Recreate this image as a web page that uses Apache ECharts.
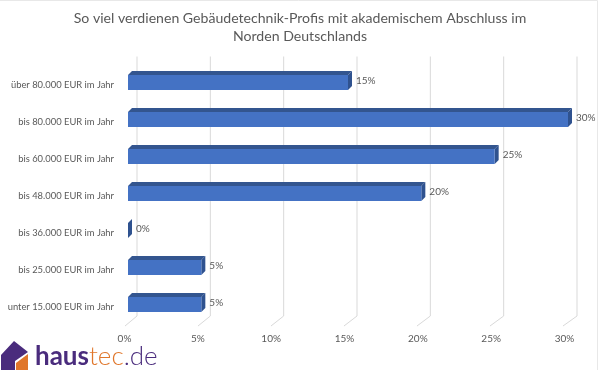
<!DOCTYPE html>
<html>
<head>
<meta charset="utf-8">
<script src="https://cdn.jsdelivr.net/npm/echarts@6/dist/echarts.min.js"></script>
<style>
html, body { margin: 0; padding: 0; background: #fff; }
#chart { width: 600px; height: 370px; }
</style>
</head>
<body>
<div id="chart"></div>
<script>
var titleLines = ['So viel verdienen Gebäudetechnik-Profis mit akademischem Abschluss im', 'Norden Deutschlands']
var categories = ['unter 15.000 EUR im Jahr', 'bis 25.000 EUR im Jahr', 'bis 36.000 EUR im Jahr', 'bis 48.000 EUR im Jahr', 'bis 60.000 EUR im Jahr', 'bis 80.000 EUR im Jahr', 'über 80.000 EUR im Jahr']
var values = [5, 5, 0, 20, 25, 30, 15]
var xTicks = [0, 5, 10, 15, 20, 25, 30]

var font = 'Lato, "Noto Sans", sans-serif'
var chart = echarts.init(document.getElementById('chart'), null, { renderer: 'canvas' })

// hintere Wand + Boden als Gitter
function renderWall (params, api) {
  var p = api.coord([api.value(0), 0])
  var s = params.coordSys
  var backX = p[0] + 9
  var floorY = s.y + s.height - 9.5
  return {
    type: 'polyline',
    silent: true,
    shape: { points: [[backX, s.y - 10], [backX, floorY], [p[0] - 3 - api.value(0) * 0.067, floorY + 10]] },
    style: { stroke: '#d9d9d9', lineWidth: 1, fill: 'none' }
  }
}

// 3D-Balken: Front, Oberseite, rechte Seite
function renderBar (params, api) {
  var start = api.coord([0, api.value(1)])
  var end = api.coord([api.value(0), api.value(1)])
  var h = 15
  var dx = 4
  var dy = 4
  var top = start[1] - 10
  var bottom = top + h
  var children = [{
    type: 'polygon',
    shape: { points: [[end[0], top], [end[0] + dx, top - dy], [end[0] + dx, bottom - dy], [end[0], bottom]] },
    style: { fill: '#2f528f' }
  }]
  if (end[0] > start[0]) {
    children.push({
      type: 'polygon',
      shape: { points: [[start[0], top], [start[0] + dx, top - dy], [end[0] + dx, top - dy], [end[0], top]] },
      style: { fill: '#33558f' }
    })
    children.push({
      type: 'rect',
      shape: { x: start[0], y: top, width: end[0] - start[0], height: h },
      style: { fill: '#4472c4' }
    })
  }
  children.push({
    type: 'text',
    style: {
      x: end[0] + dx + 4,
      y: start[1] - 4,
      text: api.value(0) + '%',
      fill: '#595959',
      fontSize: 10,
      fontFamily: font,
      verticalAlign: 'middle'
    }
  })
  return { type: 'group', children: children }
}

chart.setOption({
  animation: false,
  backgroundColor: '#fff',
  title: {
    text: titleLines.join('\n'),
    left: 295,
    top: 4,
    textAlign: 'center',
    textStyle: { color: '#595959', fontSize: 14.1, fontWeight: 'normal', fontFamily: font, lineHeight: 18 }
  },
  grid: { left: 128, width: 440, top: 66.5, height: 259 },
  xAxis: {
    type: 'value',
    min: 0,
    max: 30,
    interval: 5,
    axisLine: { show: false },
    axisTick: { show: false },
    splitLine: { show: false },
    axisLabel: {
      formatter: '{value}%',
      color: '#595959',
      fontSize: 10,
      fontFamily: font,
      margin: 8,
      padding: [0, 7, 0, 0]
    }
  },
  yAxis: {
    type: 'category',
    data: categories,
    axisLine: { show: false },
    axisTick: { show: false },
    axisLabel: { color: '#595959', fontSize: 9.4, fontFamily: font, margin: 14 }
  },
  series: [{
    type: 'custom',
    data: xTicks.map(function (t) { return [t] }),
    encode: { x: 0 },
    renderItem: renderWall,
    silent: true,
    z: 1
  }, {
    type: 'custom',
    data: values.map(function (v, i) { return [v, i] }),
    encode: { x: 0, y: 1 },
    renderItem: renderBar,
    z: 2
  }],
  graphic: [{
    type: 'polyline',
    shape: { points: [[0, 0.5], [597.5, 0.5], [597.5, 370]] },
    style: { stroke: '#e8e8e8', lineWidth: 1, fill: 'none' }
  }, {
    type: 'polygon',
    shape: { points: [[1, 370], [1, 355], [14, 341], [28, 352], [15, 361], [15, 370]] },
    style: { fill: '#4a2c7d' }
  }, {
    type: 'polygon',
    shape: { points: [[16, 370], [16, 363], [28, 354], [28, 370]] },
    style: { fill: '#e0762a' }
  }, {
    type: 'text',
    left: 35,
    top: 344,
    style: {
      text: '{a|haus}{b|tec}{c|.de}',
      rich: {
        a: { fill: '#4a2c7d', fontSize: 26, fontFamily: font, fontWeight: 'bold' },
        b: { fill: '#e0762a', fontSize: 26, fontFamily: font, fontWeight: 300 },
        c: { fill: '#4a2c7d', fontSize: 26, fontFamily: font, fontWeight: 300 }
      }
    }
  }]
})
</script>
</body>
</html>
